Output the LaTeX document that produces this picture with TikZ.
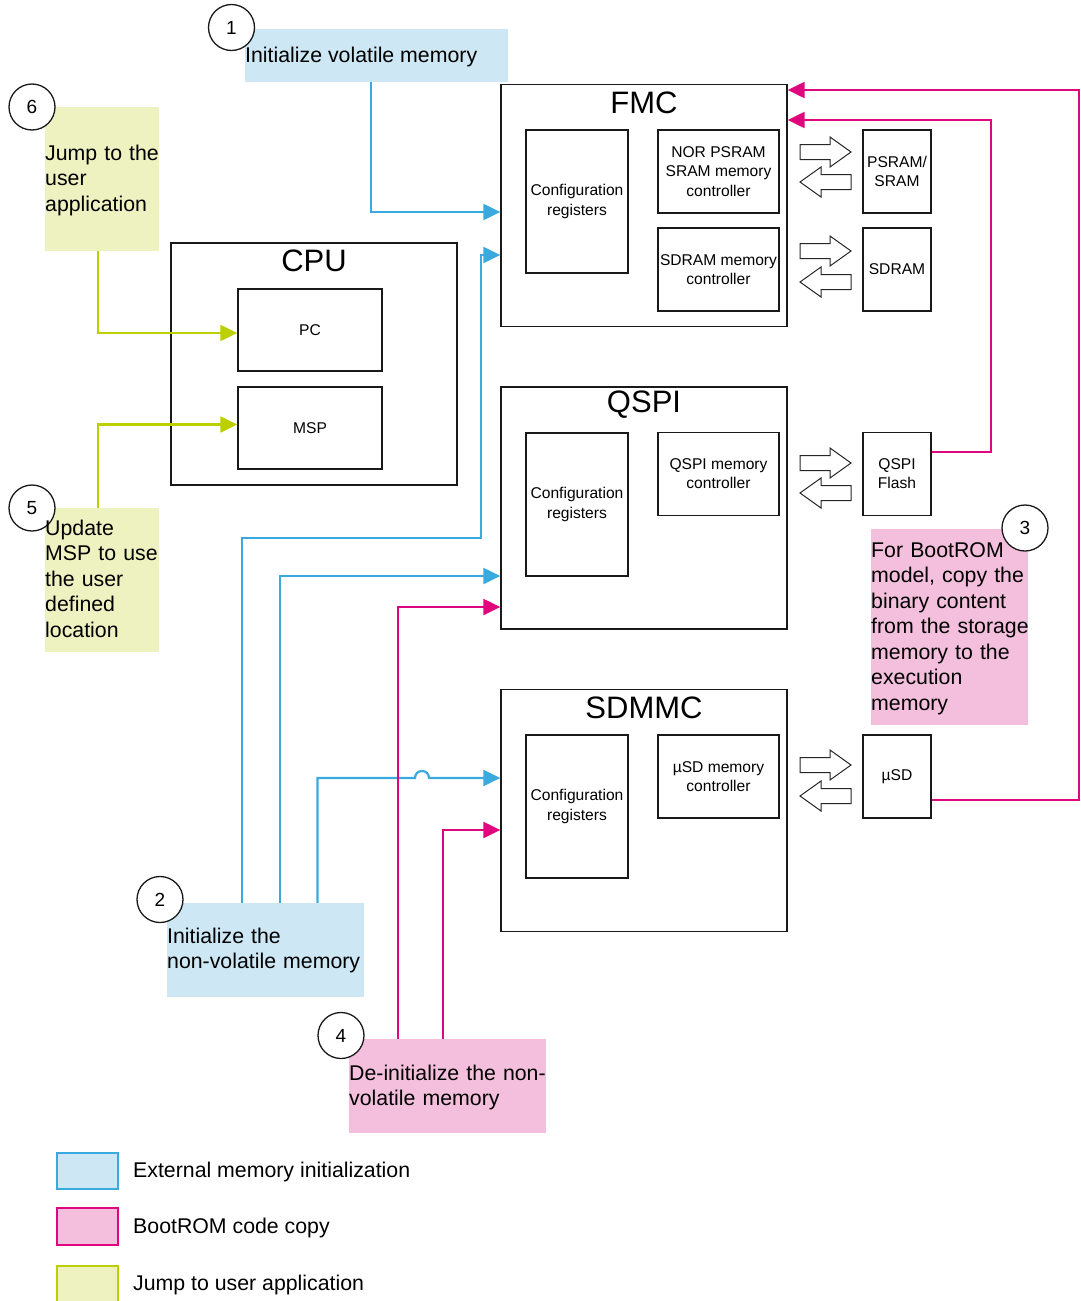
\documentclass[tikz,border=0pt]{standalone}
\usepackage{fontspec}
\setmainfont{Liberation Sans}
\usetikzlibrary{arrows.meta}
\definecolor{stblue}{HTML}{3AA9DE}
\definecolor{stbluefill}{HTML}{CDE8F4}
\definecolor{stpink}{HTML}{E0067E}
\definecolor{stpinkfill}{HTML}{F4BFDD}
\definecolor{stlime}{HTML}{BCD000}
\definecolor{stlimefill}{HTML}{EEF2C1}
\begin{document}
\begin{tikzpicture}[x=1pt,y=-1pt,
  box/.style={draw=black!90, line width=1.3pt, inner sep=0pt, align=center,
              font=\fontsize{15.6}{19.2}\selectfont},
  outer/.style={box, minimum width=286, minimum height=242},
  cfgbox/.style={box, minimum width=102, minimum height=143},
  ctlbox/.style={box, minimum width=121, minimum height=83},
  membox/.style={box, minimum width=68, minimum height=83},
  cpubox/.style={box, minimum width=144, minimum height=82},
  title/.style={inner sep=0pt, font=\fontsize{31}{31}\selectfont},
  ann/.style={inner sep=0pt, font=\fontsize{21.3}{25.5}\selectfont},
  annm/.style={ann, text width=300pt, align=left, anchor=base west},
  stepnum/.style={circle, draw=black!90, fill=white, line width=1.3pt, minimum size=46,
                  inner sep=0pt, font=\fontsize{19}{19}\selectfont},
  blkarrow/.style={draw=black!85, line width=1pt, fill=white, line join=miter},
  tipb/.style={-{Triangle[length=17pt,width=16pt]}},
  blueln/.style={draw=stblue, line width=2.2pt, tipb},
  pinkln/.style={draw=stpink, line width=2.2pt, tipb},
  limeln/.style={draw=stlime, line width=2.2pt, tipb},
  rblk/.pic={\draw[blkarrow] (0,-7.5) -- (30,-7.5) -- (30,-15) -- (51,0) -- (30,15) -- (30,7.5) -- (0,7.5) -- cycle;},
  lblk/.pic={\draw[blkarrow] (0,0) -- (21,-15) -- (21,-7.5) -- (51,-7.5) -- (51,7.5) -- (21,7.5) -- (21,15) -- cycle;}
]
\useasboundingbox (0,0) rectangle (1081,1301);

% coloured step panels
\node[fill=stbluefill, minimum width=263, minimum height=53, inner sep=0pt] (a1) at (376.5,55.5) {};
\node[fill=stlimefill, minimum width=114, minimum height=144, inner sep=0pt] (a6) at (102,179) {};
\node[fill=stlimefill, minimum width=114, minimum height=144, inner sep=0pt] (a5) at (102,580) {};
\node[fill=stbluefill, minimum width=197, minimum height=94, inner sep=0pt] (a2) at (265.5,950) {};
\node[fill=stpinkfill, minimum width=197, minimum height=94, inner sep=0pt] (a4) at (447.5,1086) {};
\node[fill=stpinkfill, minimum width=157, minimum height=196, inner sep=0pt] (a3) at (949.5,627) {};

% peripheral blocks
\node[outer] (fmc) at (644,205.5) {};
\node[title] (fmct) at (644,103) {FMC};
\node[cfgbox] (fmccfg) at (577,201.5) {Configuration\\registers};
\node[ctlbox] (norctl) at (718.5,171.5) {NOR PSRAM\\SRAM memory\\controller};
\node[ctlbox] (sdrctl) at (718.5,269.5) {SDRAM memory\\controller};
\node[membox] (psram) at (897,171.5) {PSRAM/\\SRAM};
\node[membox] (sdram) at (897,269.5) {SDRAM};

\node[outer] (cpu) at (314,364) {};
\node[title] (cput) at (314,261) {CPU};
\node[cpubox] (pc) at (310,330) {PC};
\node[cpubox] (msp) at (310,428) {MSP};

\node[outer] (qspi) at (644,508) {};
\node[title] (qspit) at (644,405) {QSPI};
\node[cfgbox] (qcfg) at (577,504.5) {Configuration\\registers};
\node[ctlbox] (qctl) at (718.5,474) {QSPI memory\\controller};
\node[membox] (qflash) at (897,474) {QSPI\\Flash};

\node[outer] (sdmmc) at (644,810.5) {};
\node[title] (sdmmct) at (644,708) {SDMMC};
\node[cfgbox] (scfg) at (577,806.5) {Configuration\\registers};
\node[ctlbox] (sctl) at (718.5,776.5) {µSD memory\\controller};
\node[membox] (usd) at (897,776.5) {µSD};

% data-path block arrows
\pic at (800,152) {rblk};  \pic at (800,182) {lblk};
\pic at (800,251) {rblk};  \pic at (800,282) {lblk};
\pic at (800,463) {rblk};  \pic at (800,493) {lblk};
\pic at (800,765) {rblk};  \pic at (800,796) {lblk};

% step 1: volatile memory init
\draw[blueln] ([xshift=-5.5pt]a1.south) |- ([yshift=-6.5pt]fmc.west);
% step 2: non-volatile memory init
\draw[blueln] ([xshift=-23.5pt]a2.north) |- (481,538) |- ([yshift=-49.5pt]fmc.west);
\draw[blueln] ([xshift=14.5pt]a2.north) |- ([yshift=-68pt]qspi.west);
\draw[blueln] ([xshift=52pt]a2.north) |- (415,778)
   .. controls (415,768.7) and (429,768.7) .. (429,778) -- ([yshift=32.5pt]sdmmc.west);
% step 3: copy to execution memory
\draw[pinkln] ([yshift=22pt]qflash.east) -| (991,120) -- ([yshift=85.5pt]fmc.east);
\draw[pinkln] ([yshift=-23.5pt]usd.east) -| (1079,90) -- ([yshift=115.5pt]fmc.east);
% step 4: de-init
\draw[pinkln] ([xshift=-49.5pt]a4.north) |- ([yshift=-99pt]qspi.west);
\draw[pinkln] ([xshift=-4.5pt]a4.north) |- ([yshift=-19.5pt]sdmmc.west);
% steps 5 and 6: CPU registers
\draw[limeln] ([xshift=-4pt]a6.south) |- ([yshift=-3pt]pc.west);
\draw[limeln] ([xshift=-4pt]a5.north) |- ([yshift=3.5pt]msp.west);

% step numbers
\node[stepnum] (c1) at (231.5,27.5) {1};
\node[stepnum] (c2) at (160,899.5) {2};
\node[stepnum] (c3) at (1025,528) {3};
\node[stepnum] (c4) at (341,1035.5) {4};
\node[stepnum] (c5) at (32,508) {5};
\node[stepnum] (c6) at (32,107) {6};

% step texts
\node[ann, anchor=base west] (t1) at (245,62.7) {Initialize volatile memory};
\node[annm] (t6) at (45,160) {Jump to the\\user\\application};
\node[annm] (t5) at (45,535) {Update\\MSP to use\\the user\\defined\\location};
\node[annm] (t2) at (167,943) {Initialize the\\non-volatile memory};
\node[annm] (t4) at (349,1080) {De-initialize the non-\\volatile memory};
\node[annm] (t3) at (871,557) {For BootROM\\model, copy the\\binary content\\from the storage\\memory to the\\execution\\memory};

% legend
\node[draw=stblue, fill=stbluefill, line width=2pt, minimum width=61, minimum height=36, inner sep=0pt] (lg1) at (87.5,1171) {};
\node[draw=stpink, fill=stpinkfill, line width=2pt, minimum width=61, minimum height=37, inner sep=0pt] (lg2) at (87.5,1226.5) {};
\node[draw=stlime, fill=stlimefill, line width=2pt, minimum width=61, minimum height=37, inner sep=0pt] (lg3) at (87.5,1284.5) {};
\node[ann, anchor=base west] (lt1) at (133,1177) {External memory initialization};
\node[ann, anchor=base west] (lt2) at (133,1233) {BootROM code copy};
\node[ann, anchor=base west] (lt3) at (133,1290) {Jump to user application};
\end{tikzpicture}
\end{document}
